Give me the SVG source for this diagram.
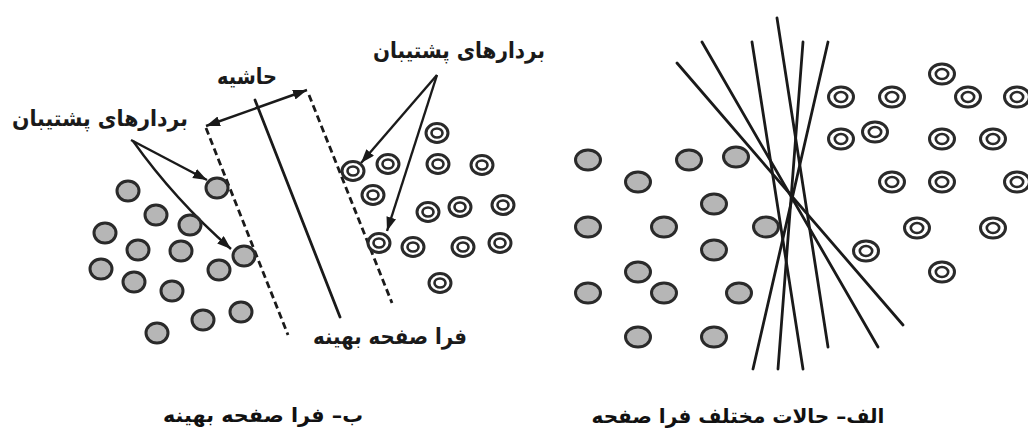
<svg xmlns="http://www.w3.org/2000/svg" xmlns:xlink="http://www.w3.org/1999/xlink" width="1028" height="437" viewBox="0 0 1028 437">
<style>
  .lbl { font-family: "DejaVu Sans", sans-serif; font-size: 22px; font-weight: bold; fill: #1a1a1a; }
  .cap { font-family: "DejaVu Sans", sans-serif; font-size: 20px; font-weight: bold; fill: #111; }
  .ln { stroke: #1a1a1a; stroke-width: 2.8; fill: none; stroke-linecap: round; }
  .dash { stroke: #1a1a1a; stroke-width: 2.8; fill: none; stroke-dasharray: 7 4; }
  .arr { stroke: #1a1a1a; stroke-width: 2.4; fill: none; }
  .gray { fill: #b6b6b6; stroke: #2a2a2a; stroke-width: 3; }
  .ringo { fill: #fff; stroke: #2a2a2a; stroke-width: 3; }
  .ringi { fill: #fff; stroke: #2a2a2a; stroke-width: 2.6; }
</style>
<defs>
  <marker id="ah" markerUnits="userSpaceOnUse" markerWidth="15" markerHeight="11" refX="14" refY="5" orient="auto-start-reverse" viewBox="0 0 15 11">
    <path d="M0,0 L14,5 L0,10 z" fill="#1a1a1a"/>
  </marker>
  <ellipse id="gL" cx="0" cy="0" rx="11" ry="10" class="gray"/>
  <ellipse id="gR" cx="0" cy="0" rx="12.5" ry="10" class="gray"/>
  <g id="rL">
    <ellipse cx="0" cy="0" rx="11" ry="9.5" class="ringo"/>
    <ellipse cx="0" cy="0" rx="5.5" ry="4.5" class="ringi"/>
  </g>
  <g id="rR">
    <ellipse cx="0" cy="0" rx="12.5" ry="10" class="ringo"/>
    <ellipse cx="0" cy="0" rx="6.2" ry="5" class="ringi"/>
  </g>
</defs>
<rect width="1028" height="437" fill="#fff"/>

<g id="connectors">
  <!-- panel b: margin lines -->
  <line class="dash" x1="206" y1="128" x2="288" y2="335"/>
  <line class="dash" x1="309" y1="95" x2="392" y2="303"/>
  <line class="ln" x1="255" y1="100" x2="340" y2="317"/>
  <line class="arr" x1="206" y1="126" x2="307" y2="90" marker-start="url(#ah)" marker-end="url(#ah)"/>
  <!-- support vector pointers -->
  <line class="arr" x1="131" y1="140" x2="207" y2="180" marker-end="url(#ah)"/>
  <path class="arr" d="M133,141 Q175,200 231,249" marker-end="url(#ah)"/>
  <line class="arr" x1="437" y1="75" x2="361" y2="163" marker-end="url(#ah)"/>
  <line class="arr" x1="437" y1="75" x2="387" y2="231" marker-end="url(#ah)"/>
  <!-- panel a: candidate hyperplanes -->
  <line class="ln" x1="677" y1="63" x2="903" y2="325"/>
  <line class="ln" x1="702" y1="42" x2="878" y2="347"/>
  <line class="ln" x1="752" y1="42" x2="803" y2="369"/>
  <line class="ln" x1="777" y1="18" x2="828" y2="347"/>
  <line class="ln" x1="803" y1="42" x2="778" y2="369"/>
  <line class="ln" x1="828" y1="42" x2="753" y2="369"/>
</g>

<g id="panel-b-class1">
  <g id="b1"><use href="#gL" x="128" y="191"/></g>
  <g id="b2"><use href="#gL" x="217" y="188"/></g>
  <g id="b3"><use href="#gL" x="156" y="215"/></g>
  <g id="b4"><use href="#gL" x="190" y="225"/></g>
  <g id="b5"><use href="#gL" x="105" y="233"/></g>
  <g id="b6"><use href="#gL" x="138" y="250"/></g>
  <g id="b7"><use href="#gL" x="181" y="251"/></g>
  <g id="b8"><use href="#gL" x="244" y="256"/></g>
  <g id="b9"><use href="#gL" x="101" y="269"/></g>
  <g id="b10"><use href="#gL" x="219" y="270"/></g>
  <g id="b11"><use href="#gL" x="134" y="282"/></g>
  <g id="b12"><use href="#gL" x="172" y="291"/></g>
  <g id="b13"><use href="#gL" x="241" y="312"/></g>
  <g id="b14"><use href="#gL" x="203" y="320"/></g>
  <g id="b15"><use href="#gL" x="157" y="333"/></g>
</g>

<g id="panel-b-class2">
  <g id="c1"><use href="#rL" x="437" y="133"/></g>
  <g id="c2"><use href="#rL" x="353" y="171"/></g>
  <g id="c3"><use href="#rL" x="388" y="164"/></g>
  <g id="c4"><use href="#rL" x="438" y="164"/></g>
  <g id="c5"><use href="#rL" x="482" y="165"/></g>
  <g id="c6"><use href="#rL" x="373" y="195"/></g>
  <g id="c7"><use href="#rL" x="428" y="212"/></g>
  <g id="c8"><use href="#rL" x="460" y="207"/></g>
  <g id="c9"><use href="#rL" x="503" y="205"/></g>
  <g id="c10"><use href="#rL" x="379" y="243"/></g>
  <g id="c11"><use href="#rL" x="413" y="247"/></g>
  <g id="c12"><use href="#rL" x="463" y="247"/></g>
  <g id="c13"><use href="#rL" x="500" y="243"/></g>
  <g id="c14"><use href="#rL" x="440" y="283"/></g>
</g>

<g id="panel-a-class1">
  <g id="a1"><use href="#gR" x="588" y="160"/></g>
  <g id="a2"><use href="#gR" x="689" y="160"/></g>
  <g id="a3"><use href="#gR" x="736" y="157"/></g>
  <g id="a4"><use href="#gR" x="638" y="182"/></g>
  <g id="a5"><use href="#gR" x="714" y="204"/></g>
  <g id="a6"><use href="#gR" x="588" y="227"/></g>
  <g id="a7"><use href="#gR" x="664" y="227"/></g>
  <g id="a8"><use href="#gR" x="766" y="227"/></g>
  <g id="a9"><use href="#gR" x="714" y="250"/></g>
  <g id="a10"><use href="#gR" x="638" y="272"/></g>
  <g id="a11"><use href="#gR" x="588" y="293"/></g>
  <g id="a12"><use href="#gR" x="664" y="293"/></g>
  <g id="a13"><use href="#gR" x="739" y="293"/></g>
  <g id="a14"><use href="#gR" x="638" y="337"/></g>
  <g id="a15"><use href="#gR" x="714" y="337"/></g>
</g>

<g id="panel-a-class2">
  <g id="d1"><use href="#rR" x="942" y="74"/></g>
  <g id="d2"><use href="#rR" x="841" y="97"/></g>
  <g id="d3"><use href="#rR" x="892" y="97"/></g>
  <g id="d4"><use href="#rR" x="968" y="97"/></g>
  <g id="d5"><use href="#rR" x="1017" y="97"/></g>
  <g id="d6"><use href="#rR" x="841" y="139"/></g>
  <g id="d7"><use href="#rR" x="875" y="132"/></g>
  <g id="d8"><use href="#rR" x="942" y="139"/></g>
  <g id="d9"><use href="#rR" x="993" y="139"/></g>
  <g id="d10"><use href="#rR" x="892" y="182"/></g>
  <g id="d11"><use href="#rR" x="942" y="182"/></g>
  <g id="d12"><use href="#rR" x="1017" y="182"/></g>
  <g id="d13"><use href="#rR" x="917" y="228"/></g>
  <g id="d14"><use href="#rR" x="993" y="228"/></g>
  <g id="d15"><use href="#rR" x="866" y="251"/></g>
  <g id="d16"><use href="#rR" x="942" y="272"/></g>
</g>

<g id="labels">
  <text class="lbl" x="459" y="58" text-anchor="middle" direction="rtl" textLength="172" lengthAdjust="spacingAndGlyphs">بردارهای پشتیبان</text>
  <text class="lbl" x="100" y="126" text-anchor="middle" direction="rtl" textLength="176" lengthAdjust="spacingAndGlyphs">بردارهای پشتیبان</text>
  <text class="lbl" x="247" y="84" text-anchor="middle" direction="rtl" textLength="60" lengthAdjust="spacingAndGlyphs">حاشیه</text>
  <text class="lbl" x="390" y="344" text-anchor="middle" direction="rtl" textLength="154" lengthAdjust="spacingAndGlyphs">فرا صفحه بهینه</text>
  <text class="cap" x="263" y="422" text-anchor="middle" direction="rtl" textLength="200" lengthAdjust="spacingAndGlyphs">ب– فرا صفحه بهینه</text>
  <text class="cap" x="738" y="423" text-anchor="middle" direction="rtl" textLength="293" lengthAdjust="spacingAndGlyphs">الف– حالات مختلف فرا صفحه</text>
</g>
</svg>
